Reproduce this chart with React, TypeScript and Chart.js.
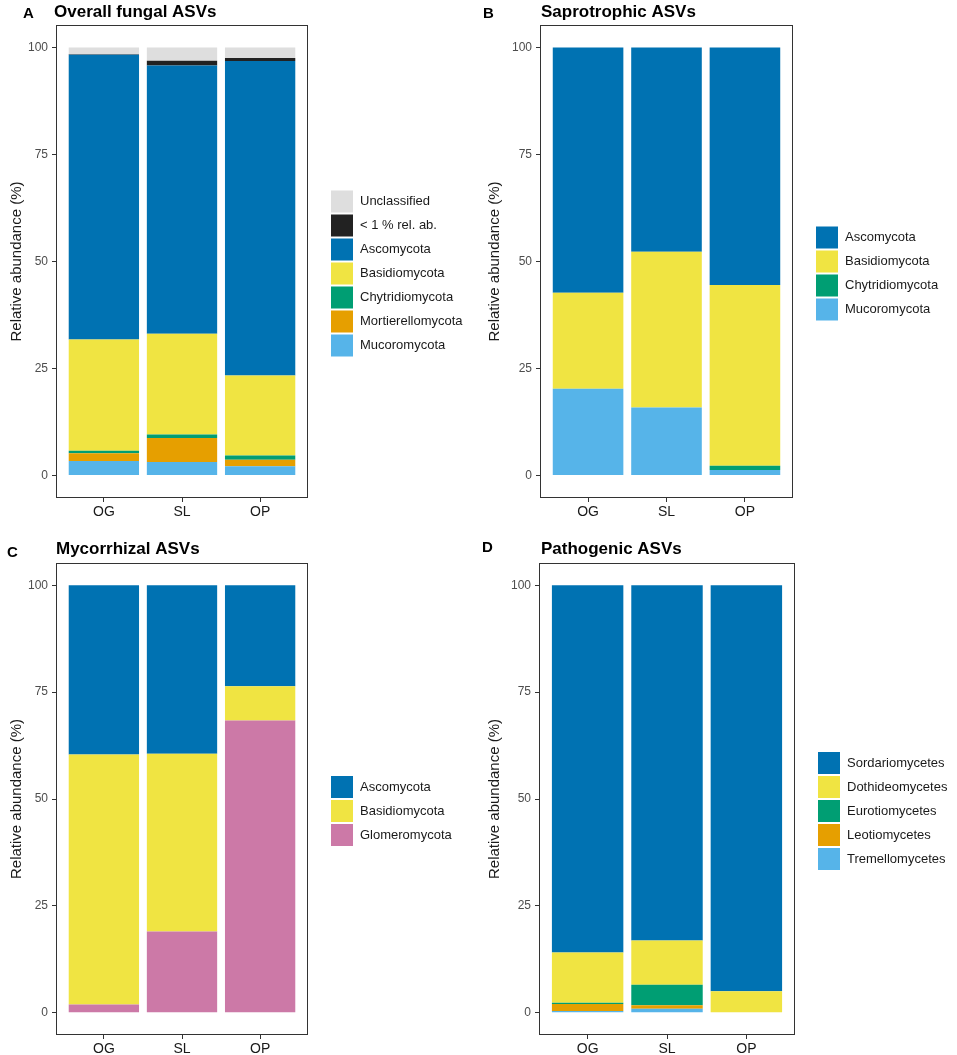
import React, { useEffect, useRef } from 'react';
import { Chart, registerables } from 'chart.js';

Chart.register(...registerables);
Chart.defaults.font.family = "'Liberation Sans', Arial, sans-serif";

// ---------- shared ----------
const categories = ['OG', 'SL', 'OP'];
const yTickValues = [0, 25, 50, 75, 100];
const yAxisTitle = 'Relative abundance (%)';

// ---------- colours ----------
const cUnclassified = '#dedede';
const cRare = '#222222';
const cBlue = '#0072b2';
const cYellow = '#f0e442';
const cGreen = '#009e73';
const cOrange = '#e69f00';
const cSky = '#56b4e9';
const cPink = '#cc79a7';

// ---------- A: overall fungal ASVs (values per OG, SL, OP) ----------
const overallMucoromycota = [3.4, 3.2, 2.2];
const overallMortierellomycota = [1.8, 5.6, 1.5];
const overallChytridiomycota = [0.6, 0.8, 1.0];
const overallBasidiomycota = [26.0, 23.5, 18.7];
const overallAscomycota = [66.5, 62.7, 73.4];
const overallRare = [0.1, 1.1, 0.7];
const overallUnclassified = [1.6, 3.1, 2.5];

// ---------- B: saprotrophic ASVs ----------
const saproMucoromycota = [20.3, 15.9, 1.3];
const saproChytridiomycota = [0, 0, 1.0];
const saproBasidiomycota = [22.4, 36.4, 42.2];
const saproAscomycota = [57.3, 47.7, 55.5];

// ---------- C: mycorrhizal ASVs ----------
const mycoGlomeromycota = [1.9, 19.0, 68.4];
const mycoBasidiomycota = [58.5, 41.6, 8.0];
const mycoAscomycota = [39.6, 39.4, 23.6];

// ---------- D: pathogenic ASVs ----------
const pathoTremellomycetes = [0.4, 0.9, 0];
const pathoLeotiomycetes = [1.6, 0.8, 0];
const pathoEurotiomycetes = [0.3, 4.8, 0];
const pathoDothideomycetes = [11.8, 10.4, 5.0];
const pathoSordariomycetes = [85.9, 83.1, 95.0];

type Series = { label: string; color: string; values: number[] };
type Rect = { left: number; top: number; width: number; height: number };
type Area = { l: number; t: number; r: number; b: number };
type Spec = {
  letter: string;
  title: string;
  series: Series[]; // bottom of stack first
  box: Rect; // canvas position on page
  area: Area; // plot area in page coordinates
  letterPos: [number, number];
  titlePos: [number, number];
};

const specs: Spec[] = [
  {
    letter: 'A',
    title: 'Overall fungal ASVs',
    series: [
      { label: 'Mucoromycota', color: cSky, values: overallMucoromycota },
      { label: 'Mortierellomycota', color: cOrange, values: overallMortierellomycota },
      { label: 'Chytridiomycota', color: cGreen, values: overallChytridiomycota },
      { label: 'Basidiomycota', color: cYellow, values: overallBasidiomycota },
      { label: 'Ascomycota', color: cBlue, values: overallAscomycota },
      { label: '< 1 % rel. ab.', color: cRare, values: overallRare },
      { label: 'Unclassified', color: cUnclassified, values: overallUnclassified },
    ],
    box: { left: 0, top: 0, width: 478, height: 530 },
    area: { l: 57, t: 26, r: 307, b: 497 },
    letterPos: [23, 18],
    titlePos: [54, 17],
  },
  {
    letter: 'B',
    title: 'Saprotrophic ASVs',
    series: [
      { label: 'Mucoromycota', color: cSky, values: saproMucoromycota },
      { label: 'Chytridiomycota', color: cGreen, values: saproChytridiomycota },
      { label: 'Basidiomycota', color: cYellow, values: saproBasidiomycota },
      { label: 'Ascomycota', color: cBlue, values: saproAscomycota },
    ],
    box: { left: 478, top: 0, width: 479, height: 530 },
    area: { l: 541, t: 26, r: 792, b: 497 },
    letterPos: [483, 18],
    titlePos: [541, 17],
  },
  {
    letter: 'C',
    title: 'Mycorrhizal ASVs',
    series: [
      { label: 'Glomeromycota', color: cPink, values: mycoGlomeromycota },
      { label: 'Basidiomycota', color: cYellow, values: mycoBasidiomycota },
      { label: 'Ascomycota', color: cBlue, values: mycoAscomycota },
    ],
    box: { left: 0, top: 530, width: 478, height: 525 },
    area: { l: 57, t: 564, r: 307, b: 1034 },
    letterPos: [7, 557],
    titlePos: [56, 554],
  },
  {
    letter: 'D',
    title: 'Pathogenic ASVs',
    series: [
      { label: 'Tremellomycetes', color: cSky, values: pathoTremellomycetes },
      { label: 'Leotiomycetes', color: cOrange, values: pathoLeotiomycetes },
      { label: 'Eurotiomycetes', color: cGreen, values: pathoEurotiomycetes },
      { label: 'Dothideomycetes', color: cYellow, values: pathoDothideomycetes },
      { label: 'Sordariomycetes', color: cBlue, values: pathoSordariomycetes },
    ],
    box: { left: 478, top: 530, width: 479, height: 525 },
    area: { l: 540, t: 564, r: 794, b: 1034 },
    letterPos: [482, 552],
    titlePos: [541, 554],
  },
];

function decorPlugin(spec: Spec) {
  return {
    id: 'decor' + spec.letter,
    afterDraw(chart: any) {
      const ctx = chart.ctx as CanvasRenderingContext2D;
      const ca = chart.chartArea;
      const ox = spec.box.left;
      const oy = spec.box.top;
      ctx.save();
      // panel border
      ctx.strokeStyle = '#333333';
      ctx.lineWidth = 1;
      ctx.strokeRect(Math.round(ca.left) - 0.5, Math.round(ca.top) - 0.5, Math.round(ca.right - ca.left) + 1, Math.round(ca.bottom - ca.top) + 1);
      // letter + title
      ctx.fillStyle = '#000000';
      ctx.textBaseline = 'alphabetic';
      ctx.textAlign = 'left';
      ctx.font = "bold 15px 'Liberation Sans', Arial, sans-serif";
      ctx.fillText(spec.letter, spec.letterPos[0] - ox, spec.letterPos[1] - oy);
      ctx.font = "bold 17px 'Liberation Sans', Arial, sans-serif";
      ctx.fillText(spec.title, spec.titlePos[0] - ox, spec.titlePos[1] - oy);
      // legend (top of stack first)
      const items = chart.data.datasets.map((d: any) => ({ label: d.label, color: d.backgroundColor })).reverse();
      const step = 24;
      const key = 22;
      const centerY = (ca.top + ca.bottom) / 2 + 12;
      const top0 = centerY - (items.length * step) / 2;
      const keyX = ca.right + 24;
      ctx.font = "13px 'Liberation Sans', Arial, sans-serif";
      ctx.textBaseline = 'middle';
      items.forEach((it: any, i: number) => {
        const y = top0 + i * step;
        ctx.fillStyle = it.color;
        ctx.fillRect(keyX, y + 1, key, key);
        ctx.fillStyle = '#1a1a1a';
        ctx.fillText(it.label, keyX + 29, y + 1 + key / 2);
      });
      ctx.restore();
    },
  };
}

function Panel({ spec }: { spec: Spec }) {
  const ref = useRef<HTMLCanvasElement>(null);
  useEffect(() => {
    const { box, area } = spec;
    const yWidth = area.l - box.left;
    const padTop = area.t - box.top;
    const padRight = box.left + box.width - area.r;
    const xHeight = 21;
    const padBottom = box.top + box.height - area.b - xHeight;
    const datasets = spec.series.map((s) => ({
      label: s.label,
      data: s.values.map((v, i) => ({ x: i + 1, y: v })),
      backgroundColor: s.color,
      borderWidth: 0,
      barPercentage: 0.9,
      categoryPercentage: 1,
    }));
    const chart = new Chart(ref.current as HTMLCanvasElement, {
      type: 'bar',
      data: { datasets } as any,
      options: {
        animation: false,
        responsive: false,
        maintainAspectRatio: false,
        devicePixelRatio: 1,
        layout: { padding: { left: 0, top: padTop, right: padRight, bottom: padBottom } },
        plugins: {
          legend: { display: false },
          title: { display: false },
          tooltip: { enabled: false },
        },
        scales: {
          x: {
            type: 'linear',
            stacked: true,
            min: 0.4,
            max: 3.6,
            offset: false,
            grid: { display: true, drawOnChartArea: false, drawTicks: true, tickLength: 5, tickColor: '#333333', offset: false },
            border: { display: false },
            afterBuildTicks: (s: any) => {
              s.ticks = categories.map((_, i) => ({ value: i + 1 }));
            },
            ticks: {
              autoSkip: false,
              maxRotation: 0,
              padding: 2,
              color: '#1a1a1a',
              font: { size: 14 },
              callback: (v: any) => categories[Math.round(Number(v)) - 1] ?? '',
            },
            afterFit: (s: any) => {
              s.height = xHeight;
            },
          },
          y: {
            type: 'linear',
            stacked: true,
            min: -5,
            max: 105,
            grid: { display: true, drawOnChartArea: false, drawTicks: true, tickLength: 5, tickColor: '#333333' },
            border: { display: false },
            afterBuildTicks: (s: any) => {
              s.ticks = yTickValues.map((v) => ({ value: v }));
            },
            ticks: { autoSkip: false, padding: 4, color: '#4d4d4d', font: { size: 12 } },
            title: {
              display: true,
              text: yAxisTitle,
              color: '#1a1a1a',
              font: { size: 15 },
              padding: { top: 8, bottom: 0 },
            },
            afterFit: (s: any) => {
              s.width = yWidth;
            },
          },
        },
      } as any,
      plugins: [decorPlugin(spec)],
    });
    return () => chart.destroy();
  }, [spec]);
  const { box } = spec;
  return (
    <canvas
      ref={ref}
      width={box.width}
      height={box.height}
      style={{ position: 'absolute', left: box.left, top: box.top, width: box.width, height: box.height }}
    />
  );
}

export default function App() {
  return (
    <div style={{ position: 'absolute', left: 0, top: 0, width: 957, height: 1055, background: '#ffffff' }}>
      {specs.map((s) => (
        <Panel key={s.letter} spec={s} />
      ))}
    </div>
  );
}
